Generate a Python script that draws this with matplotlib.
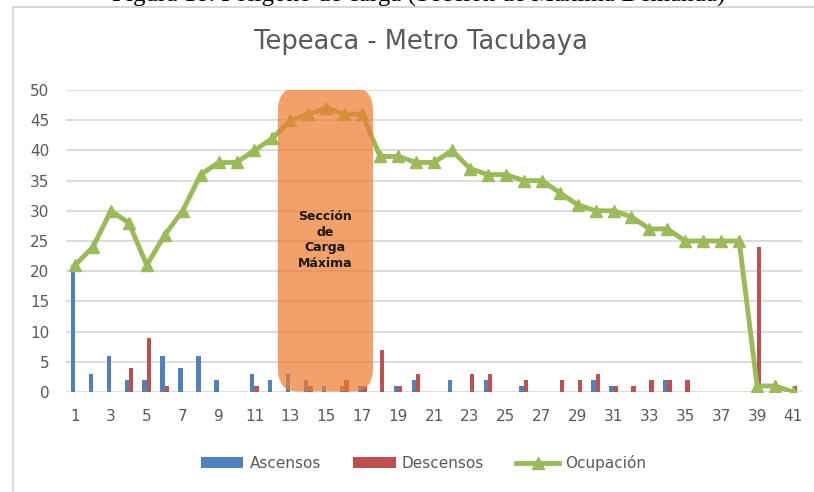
import matplotlib.pyplot as plt
import numpy as np
from matplotlib.patches import FancyBboxPatch
from matplotlib.lines import Line2D

# paradas 1..41
paradas = list(range(1, 42))
ascensos = [21, 3, 6, 2, 2, 6, 4, 6, 2, 0, 3, 2, 3, 2, 1, 1, 1, 0, 1, 2, 0,
            2, 0, 2, 0, 1, 0, 0, 0, 2, 1, 0, 0, 2, 0, 0, 0, 0, 0, 0, 0]
descensos = [0, 0, 0, 4, 9, 1, 0, 0, 0, 0, 1, 0, 0, 1, 0, 2, 1, 7, 1, 3, 0,
             0, 3, 3, 0, 2, 0, 2, 2, 3, 1, 1, 2, 2, 2, 0, 0, 0, 24, 0, 1]
ocupacion = [21, 24, 30, 28, 21, 26, 30, 36, 38, 38, 40, 42, 45, 46, 47, 46, 46,
             39, 39, 38, 38, 40, 37, 36, 36, 35, 35, 33, 31, 30, 30, 29, 27, 27,
             25, 25, 25, 25, 1, 1, 0]
yticks = [0, 5, 10, 15, 20, 25, 30, 35, 40, 45, 50]

plt.rcParams['font.family'] = ['DejaVu Sans']

fig = plt.figure(figsize=(8.14, 4.92), dpi=100)
ax = fig.add_axes([66/814, 1-392/492, (802-66)/814, (392-90)/492])

x = np.array(paradas)
b1 = ax.bar(x - 0.12, ascensos, width=0.24, color='#4F81BD', label='Ascensos', zorder=2)
b2 = ax.bar(x + 0.12, descensos, width=0.24, color='#C0504D', label='Descensos', zorder=2)
l1, = ax.plot(x, ocupacion, color='#9BBB59', lw=3.5, marker='^', ms=9,
              label='Ocupación', zorder=3)

# seccion de carga maxima
box = FancyBboxPatch((12.3, 0.1), 5.3, 50.3, boxstyle='round,pad=0,rounding_size=1.1',
                     mutation_aspect=3.5, facecolor='#ED7D31', edgecolor='none',
                     alpha=0.72, zorder=4)
ax.add_patch(box)
ax.text(14.95, 25.2, 'Sección\nde\nCarga\nMáxima', ha='center', va='center',
        fontsize=9, fontweight='bold', color='#1a1a1a',
        linespacing=1.25, zorder=5)

ax.set_xlim(0.5, 41.5)
ax.set_ylim(0, 50)
ax.set_yticks(yticks)
ax.set_xticks(paradas[::2])
ax.yaxis.grid(True, color='#D9D9D9', lw=1.3, zorder=0)
ax.set_axisbelow(True)
for s in ax.spines.values():
    s.set_visible(False)
ax.tick_params(length=0, labelsize=11, labelcolor='#595959')
ax.tick_params(axis='x', pad=12)
ax.tick_params(axis='y', pad=12)

fig.text(0.517, 1-42/492, 'Tepeaca - Metro Tacubaya', ha='center', va='center',
         fontsize=18.5, color='#595959')

leg = fig.legend([b1, b2, l1], ['Ascensos', 'Descensos', 'Ocupación'], loc='center',
                 bbox_to_anchor=(0.52, 1-463/492), ncol=3, frameon=False,
                 fontsize=11, handlelength=2.8, handleheight=0.75,
                 columnspacing=2.1, handletextpad=0.4)
for t in leg.get_texts():
    t.set_color('#595959')

# marco del grafico (solo borde izquierdo y superior visibles) y titulo cortado
x0, y0 = 13/814, 1-7/492
fig.lines.append(Line2D([x0, x0], [0, y0], transform=fig.transFigure,
                        color='#D9D9D9', lw=1.5))
fig.lines.append(Line2D([x0, 1], [y0, y0], transform=fig.transFigure,
                        color='#D9D9D9', lw=1.5))
fig.text(419/814, 1-2/492, 'Figura 18. Polígono de carga (Sección de Máxima Demanda)',
         ha='center', va='baseline', fontsize=18, family='Liberation Serif')

fig.savefig('out.png', dpi=100)
